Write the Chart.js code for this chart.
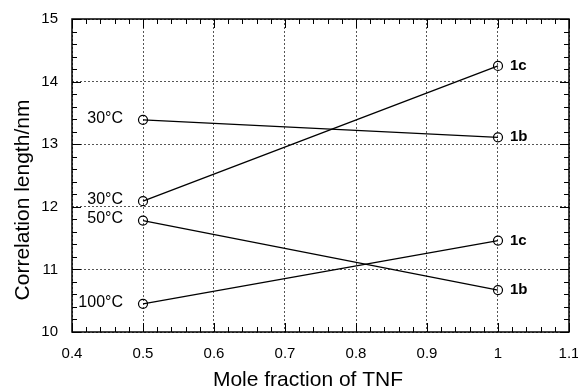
<!DOCTYPE html>
<html>
<head>
<meta charset="utf-8">
<script src="https://cdn.jsdelivr.net/npm/chart.js@4"></script>
<style>
    body { margin: 0; background: #fff; }
    #wrap { width: 578px; height: 389px; }
</style>
</head>
<body>
<div id="wrap"><canvas id="corrChart"></canvas></div>
<script>
// mole fraction of TNF
const xValues = [0.5, 1];

// correlation length / nm, at x = 0.5 and x = 1
const series30c1b = [13.39, 13.11];
const series30c1c = [12.09, 14.25];
const series50c1b = [11.78, 10.67];
const series100c1c = [10.45, 11.46];

const tempLabels = ['30°C', '30°C', '50°C', '100°C'];
const compoundLabels = ['1b', '1c', '1b', '1c'];

const xTickLabels = ['0.4', '0.5', '0.6', '0.7', '0.8', '0.9', '1', '1.1'];
const yTickLabels = ['10', '11', '12', '13', '14', '15'];

const xTitle = 'Mole fraction of TNF';
const yTitle = 'Correlation length/nm';

const FONT = '"Liberation Sans", Arial, Helvetica, sans-serif';

function toPoints(ys) {
    return xValues.map((x, i) => ({ x: x, y: ys[i] }));
}

// inner ticks on all four sides, frame, axis titles and point labels
const decorPlugin = {
    id: 'decor',
    afterDatasetsDraw(chart) {
        const ctx = chart.ctx;
        const a = chart.chartArea;
        const xs = chart.scales.x;
        const ys = chart.scales.y;
        ctx.save();
        ctx.strokeStyle = '#000';
        ctx.lineWidth = 1;
        ctx.beginPath();
        for (let v = 0.4; v <= 1.1001; v += 0.02) {
            const major = Math.abs(v * 10 - Math.round(v * 10)) < 0.001;
            const len = major ? 9 : 5;
            const px = Math.round(xs.getPixelForValue(v)) + 0.5;
            ctx.moveTo(px, a.bottom); ctx.lineTo(px, a.bottom - len);
            ctx.moveTo(px, a.top); ctx.lineTo(px, a.top + len);
        }
        for (let v = 10; v <= 15.001; v += 0.2) {
            const major = Math.abs(v - Math.round(v)) < 0.001;
            const len = major ? 9 : 5;
            const py = Math.round(ys.getPixelForValue(v)) + 0.5;
            ctx.moveTo(a.left, py); ctx.lineTo(a.left + len, py);
            ctx.moveTo(a.right, py); ctx.lineTo(a.right - len, py);
        }
        ctx.stroke();
        ctx.lineWidth = 1.5;
        ctx.strokeRect(a.left, a.top, a.right - a.left, a.bottom - a.top);

        ctx.fillStyle = '#000';
        ctx.textBaseline = 'middle';
        chart.data.datasets.forEach((ds, i) => {
            const pts = chart.getDatasetMeta(i).data;
            ctx.font = '16px ' + FONT;
            ctx.textAlign = 'right';
            ctx.fillText(tempLabels[i], pts[0].x - 20, pts[0].y - 1.5);
            ctx.font = 'bold 15px ' + FONT;
            ctx.textAlign = 'left';
            ctx.fillText(compoundLabels[i], pts[1].x + 12, pts[1].y);
        });

        // axis titles
        ctx.font = '21px ' + FONT;
        ctx.textAlign = 'center';
        ctx.textBaseline = 'alphabetic';
        ctx.fillText(xTitle, 308, 386);
        ctx.translate(29, 200);
        ctx.rotate(-Math.PI / 2);
        ctx.fillText(yTitle, 0, 0);
        ctx.restore();
    }
};

const ctx = document.getElementById('corrChart').getContext('2d');
new Chart(ctx, {
    type: 'line',
    data: {
        datasets: [series30c1b, series30c1c, series50c1b, series100c1c].map(s => ({
            data: toPoints(s),
            borderColor: '#000',
            borderWidth: 1.3,
            pointRadius: 4.5,
            pointBorderWidth: 1.2,
            pointBorderColor: '#000',
            pointBackgroundColor: 'rgba(0,0,0,0)',
            fill: false,
            tension: 0
        }))
    },
    options: {
        responsive: true,
        maintainAspectRatio: false,
        animation: false,
        layout: { padding: { top: 19, right: 9, left: 0, bottom: 0 } },
        plugins: {
            legend: { display: false },
            tooltip: { enabled: false }
        },
        scales: {
            x: {
                type: 'linear',
                min: 0.4,
                max: 1.1,
                ticks: {
                    stepSize: 0.1,
                    padding: 13,
                    color: '#000',
                    font: { family: FONT, size: 15 },
                    maxRotation: 0,
                    callback: (v, i) => xTickLabels[i]
                },
                grid: {
                    drawTicks: false,
                    color: '#555',
                    lineWidth: 1
                },
                border: { display: false, dash: [2, 2] },
                afterFit(scale) {
                    scale.height = 57;
                    scale.paddingLeft = 0;
                    scale.paddingRight = 0;
                }
            },
            y: {
                min: 10,
                max: 15,
                ticks: {
                    stepSize: 1,
                    padding: 14,
                    color: '#000',
                    font: { family: FONT, size: 15 },
                    callback: (v, i) => yTickLabels[i]
                },
                grid: {
                    drawTicks: false,
                    color: '#555',
                    lineWidth: 1
                },
                border: { display: false, dash: [2, 2] },
                afterFit(scale) {
                    scale.width = 72;
                    scale.paddingTop = 0;
                    scale.paddingBottom = 0;
                }
            }
        }
    },
    plugins: [decorPlugin]
});
</script>
</body>
</html>
